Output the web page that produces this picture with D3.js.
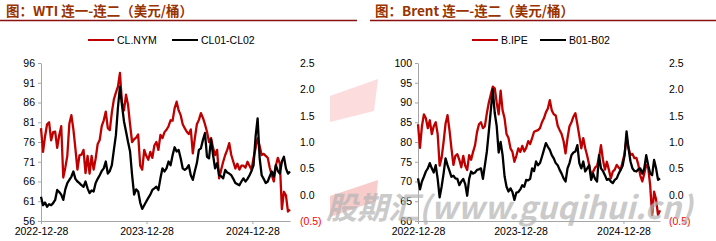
<!DOCTYPE html>
<html>
<head>
<meta charset="utf-8">
<script src="https://cdn.jsdelivr.net/npm/d3@7"></script>
<style>
  body { margin: 0; background: #fff; }
  svg text { font-family: "Liberation Sans", Arial, sans-serif; }
</style>
</head>
<body>
<div id="chart"></div>
<script>
// frame
const FRAME_WIDTH = 716;
const FRAME_HEIGHT = 241;
const PLOT_TOP = 63, PLOT_BOTTOM = 221;

// categories / ticks
const START_DATE = "2022-12-28";
const X_TICKS = ["2022-12-28", "2023-12-28", "2024-12-28"];
const WTI_TICKS = [56, 61, 66, 71, 76, 81, 86, 91, 96];
const BRENT_TICKS = [60, 65, 70, 75, 80, 85, 90, 95, 100];
const SPREAD_TICKS = [-0.5, 0, 0.5, 1, 1.5, 2, 2.5];

// weekly values (one per week from START_DATE)
const wtiPrice = [
  79.5, 73.5, 77.4, 80.5, 81.0, 76.4, 78.5, 78.6, 74.5, 77.7,
  80.0, 67.0, 69.5, 72.5, 80.6, 82.8, 79.2, 74.3, 69.0, 72.6,
  72.8, 74.0, 68.1, 72.5, 68.0, 72.5, 69.0, 71.8, 75.5, 76.5,
  80.0, 81.5, 83.7, 79.5, 79.0, 83.5, 86.8, 88.5, 90.0, 93.5,
  86.0, 84.0, 88.0, 85.4, 80.4, 76.0, 76.7, 77.1, 77.9, 70.0,
  69.0, 74.0, 72.5, 71.5, 73.5, 72.0, 75.1, 76.0, 74.0, 77.8,
  77.0, 78.5, 79.1, 80.0, 81.5, 81.4, 84.5, 86.2, 84.0, 82.8,
  80.5, 79.5, 78.6, 78.0, 79.2, 73.1, 77.0, 80.5, 81.6, 83.3,
  82.1, 80.5, 78.6, 76.0, 77.0, 74.5, 72.7, 74.0, 66.8, 69.0,
  71.0, 72.7, 74.0, 75.7, 72.7, 71.0, 69.3, 70.5, 69.0, 70.0,
  70.0, 69.5, 71.0, 70.0, 69.0, 72.0, 74.4, 76.9, 75.0, 72.7,
  73.0, 72.5, 72.0, 69.5, 67.6, 66.0, 70.0, 72.0, 70.5, 59.0,
  63.4, 62.5, 58.4, 58.9
];
const wtiSpread = [
  -0.04, -0.2, -0.15, -0.23, -0.18, -0.2, -0.16, -0.1, 0.09, 0.05,
  0.0, -0.1, 0.1, 0.22, 0.28, 0.34, 0.44, 0.3, 0.25, 0.22,
  0.18, 0.15, 0.25, 0.12, 0.03, 0.08, 0.06, 0.22, 0.3, 0.37,
  0.45, 0.5, 0.63, 0.4, 0.45, 0.56, 0.85, 1.13, 1.65, 2.05,
  1.7, 1.39, 1.2, 1.0, 0.82, 0.37, 0.0, 0.1, 0.06, -0.15,
  -0.27, -0.2, -0.13, -0.06, 0.0, 0.09, 0.12, 0.15, 0.09, 0.31,
  0.5, 0.44, 0.5, 0.63, 0.56, 0.75, 0.9, 0.82, 0.85, 0.69,
  0.5, 0.47, 0.5, 0.56, 0.37, 0.28, 0.45, 0.6, 0.85, 0.88,
  1.04, 1.17, 0.72, 0.69, 1.05, 0.75, 0.5, 0.6, 0.37, 0.35,
  0.31, 0.47, 0.42, 0.4, 0.37, 0.3, 0.22, 0.2, 0.18, 0.25,
  0.31, 0.25, 0.3, 0.37, 0.45, 0.56, 1.1, 1.45, 0.7, 0.37,
  0.3, 0.22, 0.25, 0.35, 0.44, 0.34, 0.56, 0.45, 0.4, 0.63,
  0.72, 0.5, 0.4, 0.44
];
const brentPrice = [
  84.5, 78.5, 84.0, 87.0, 86.0, 83.5, 85.5, 82.0, 84.0, 85.0,
  82.0, 74.0, 76.0, 80.0, 84.6, 86.8, 83.0, 78.4, 74.2, 76.5,
  76.9, 75.5, 73.6, 76.5, 74.0, 72.9, 76.7, 75.5, 77.5, 79.2,
  82.5, 84.5, 85.0, 83.5, 84.0, 87.3, 90.0, 92.0, 94.0, 93.6,
  90.0, 87.0, 93.0, 88.0, 86.0, 82.0, 81.0, 78.4, 77.5, 75.0,
  76.5, 78.4, 77.5, 79.0, 77.6, 78.5, 80.2, 79.5, 81.0, 82.6,
  82.8, 83.0, 83.5, 85.0, 86.0, 87.5, 88.5, 90.6, 88.0, 87.0,
  86.7, 84.1, 83.0, 82.0, 80.2, 77.1, 81.0, 84.0, 85.0, 86.4,
  87.3, 84.5, 81.5, 78.4, 81.0, 78.4, 76.5, 74.2, 71.6, 72.5,
  73.5, 74.0, 76.0, 79.2, 75.5, 73.0, 75.0, 73.0, 70.8, 72.5,
  73.0, 74.2, 73.5, 73.0, 75.0, 77.0, 81.0, 78.5, 76.7, 77.0,
  75.9, 76.0, 74.2, 71.5, 70.0, 72.0, 74.2, 73.5, 69.0, 61.5,
  67.4, 65.5, 61.5, 62.7
];
const brentSpread = [
  0.31, 0.1, 0.25, 0.34, 0.44, 0.5, 0.6, 0.5, 0.42, 0.56,
  0.3, -0.05, 0.15, 0.4, 0.69, 0.56, 0.45, 0.34, 0.36, 0.31,
  0.3, 0.18, 0.25, 0.3, 0.2, -0.02, 0.3, 0.44, 0.4, 0.42,
  0.47, 0.48, 0.5, 0.3, 0.56, 0.82, 1.2, 1.6, 2.0, 1.55,
  1.3, 0.8, 1.0, 0.75, 0.35, 0.15, 0.06, 0.12, 0.05, -0.1,
  0.04, 0.05, 0.1, 0.18, 0.15, 0.28, 0.27, 0.3, 0.5, 0.45,
  0.63, 0.56, 0.6, 0.72, 0.85, 0.98, 0.91, 0.85, 0.75, 0.69,
  0.6, 0.56, 0.47, 0.4, 0.31, 0.25, 0.5, 0.6, 0.75, 0.8,
  0.82, 0.94, 0.6, 0.5, 0.63, 0.44, 0.5, 0.56, 0.28, 0.4,
  0.3, 0.25, 0.75, 0.5, 0.45, 0.37, 0.28, 0.3, 0.25, 0.22,
  0.28, 0.31, 0.4, 0.47, 0.55, 0.75, 1.2, 0.88, 0.63, 0.5,
  0.45, 0.44, 0.48, 0.5, 0.4, 0.5, 0.75, 0.56, 0.4, 0.37,
  0.66, 0.5, 0.28, 0.31
];

const RED = "#c00000";
const parseDate = d3.timeParse("%Y-%m-%d");
const dates = wtiPrice.map((d, i) => d3.timeDay.offset(parseDate(START_DATE), 7 * i));

const svg = d3.select("#chart")
  .append("svg")
  .attr("width", FRAME_WIDTH)
  .attr("height", FRAME_HEIGHT);

// watermark logo shapes (behind everything)
svg.append("polygon")
  .attr("points", "330,96 378,79 374,111 330,122")
  .attr("fill", "#fcdcdc");
svg.append("polygon")
  .attr("points", "330,196 378,180 376,201 330,217")
  .attr("fill", "#f9cccc");

const fmtSpread = (d) => d < 0 ? "(" + d3.format(".1f")(-d) + ")" : d3.format(".1f")(d);

function drawPanel(cfg) {
  const g = svg.append("g");

  // title + rule
  g.append("text")
    .attr("x", cfg.titleX).attr("y", 16)
    .style("font-family", "'Noto Sans CJK SC', sans-serif")
    .style("font-weight", "bold")
    .style("font-size", "13.5px")
    .attr("fill", "#993300")
    .text(cfg.title);
  g.append("line")
    .attr("x1", cfg.rule[0]).attr("x2", cfg.rule[1])
    .attr("y1", 20.5).attr("y2", 20.5)
    .attr("stroke", "#8b1010").attr("stroke-width", 1.5);

  // legend
  [[cfg.names[0], RED], [cfg.names[1], "#000"]].forEach((d, i) => {
    const lx = cfg.legendX[i];
    g.append("line")
      .attr("x1", lx).attr("x2", lx + 26)
      .attr("y1", 40).attr("y2", 40)
      .attr("stroke", d[1]).attr("stroke-width", 2);
    g.append("text")
      .attr("x", lx + 29).attr("y", 44)
      .style("font-size", "10.5px")
      .attr("fill", "#000")
      .text(d[0]);
  });

  // scales
  const xScale = d3.scaleTime()
    .domain([dates[0], dates[dates.length - 1]])
    .range([cfg.x0, cfg.x1]);
  const yLeft = d3.scaleLinear()
    .domain(d3.extent(cfg.priceTicks))
    .range([PLOT_BOTTOM, PLOT_TOP]);
  const yRight = d3.scaleLinear()
    .domain(d3.extent(SPREAD_TICKS))
    .range([PLOT_BOTTOM, PLOT_TOP]);

  // left axis
  const axL = g.append("g")
    .attr("transform", "translate(" + cfg.x0 + ",0)")
    .call(d3.axisLeft(yLeft).tickValues(cfg.priceTicks).tickSize(3).tickPadding(3).tickSizeOuter(0));
  // right axis (labels only)
  const axR = g.append("g")
    .attr("transform", "translate(" + cfg.x1 + ",0)")
    .call(d3.axisRight(yRight).tickValues(SPREAD_TICKS).tickFormat(fmtSpread).tickSize(0).tickPadding(cfg.rightPad));
  axR.select(".domain").remove();
  axR.selectAll(".tick text").attr("fill", (d) => d < 0 ? "#ff0000" : "#000");
  // bottom axis
  const axB = g.append("g")
    .attr("transform", "translate(0," + PLOT_BOTTOM + ")")
    .call(d3.axisBottom(xScale).tickValues(X_TICKS.map(parseDate))
      .tickFormat(d3.timeFormat("%Y-%m-%d")).tickSize(3).tickPadding(4).tickSizeOuter(0));

  [axL, axR, axB].forEach((a) => {
    a.selectAll("text").style("font-size", "10.5px").style("font-family", "'Liberation Sans', Arial, sans-serif");
    a.selectAll(".domain, line").attr("stroke", "#a6a6a6");
  });
  axL.selectAll("text").attr("fill", "#000");
  axB.selectAll("text").attr("fill", "#000");

  // lines
  const priceLine = d3.line()
    .x((d, i) => xScale(dates[i]))
    .y((d) => yLeft(d));
  const spreadLine = d3.line()
    .x((d, i) => xScale(dates[i]))
    .y((d) => yRight(d));

  g.append("path")
    .datum(cfg.price)
    .attr("d", priceLine)
    .attr("fill", "none")
    .attr("stroke", RED)
    .attr("stroke-width", 2.3)
    .attr("stroke-linejoin", "round");
  g.append("path")
    .datum(cfg.spread)
    .attr("d", spreadLine)
    .attr("fill", "none")
    .attr("stroke", "#000")
    .attr("stroke-width", 2.3)
    .attr("stroke-linejoin", "round");
}

drawPanel({
  title: "图：WTI 连一-连二（美元/桶）",
  titleX: 6, rule: [0, 357],
  names: ["CL.NYM", "CL01-CL02"], legendX: [88, 172],
  x0: 41, x1: 290, rightPad: 10,
  priceTicks: WTI_TICKS, price: wtiPrice, spread: wtiSpread
});

drawPanel({
  title: "图：Brent 连一-连二（美元/桶）",
  titleX: 375, rule: [370, 716],
  names: ["B.IPE", "B01-B02"], legendX: [472, 540],
  x0: 418, x1: 660, rightPad: 9,
  priceTicks: BRENT_TICKS, price: brentPrice, spread: brentSpread
});

// site watermark on top
svg.append("text")
  .attr("x", 326).attr("y", 219)
  .style("font-family", "'Noto Sans CJK SC', 'Liberation Sans', sans-serif")
  .style("font-weight", "bold")
  .style("font-style", "italic")
  .style("font-size", "31px")
  .attr("fill", "#b4b4b4")
  .attr("opacity", 0.7)
  .text("股期汇(www.guqihui.cn)");
</script>
</body>
</html>
